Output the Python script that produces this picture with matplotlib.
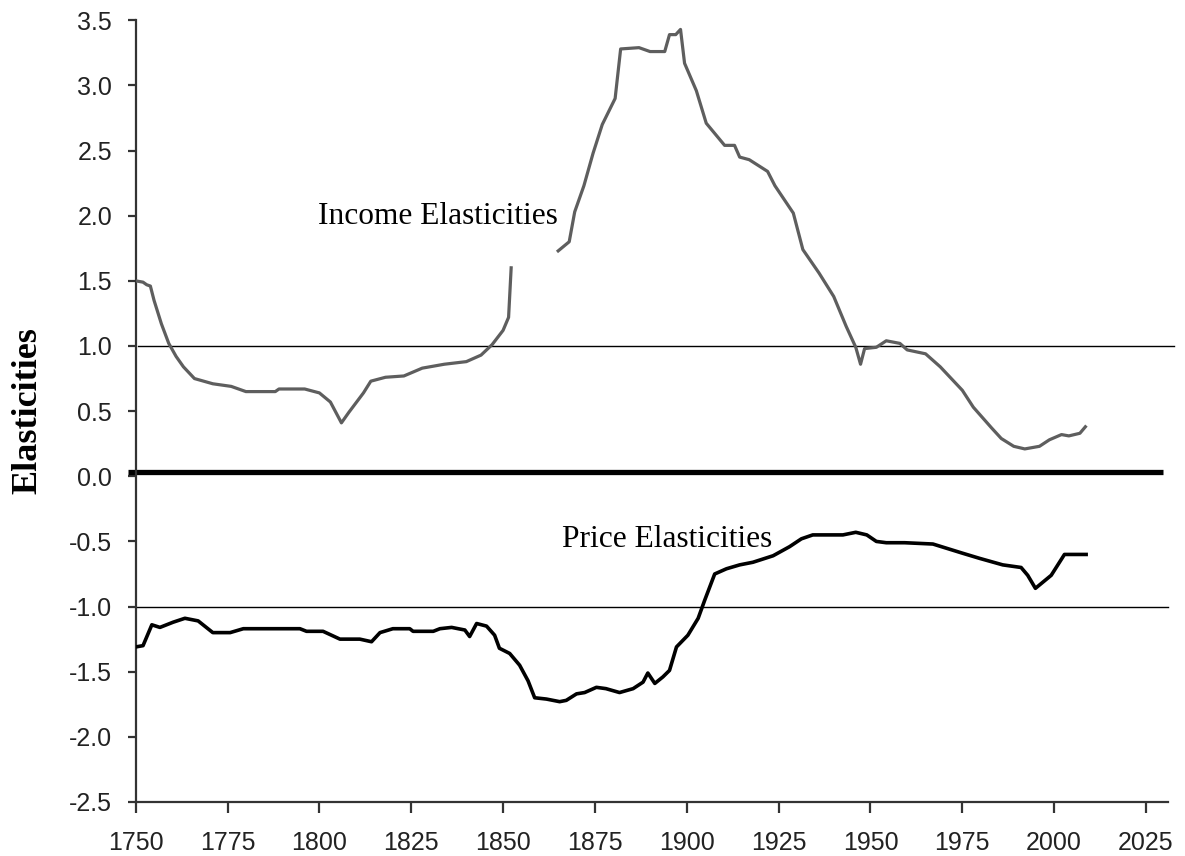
import matplotlib
matplotlib.use("Agg")
import matplotlib.pyplot as plt

plt.rcParams['axes.unicode_minus'] = False

# ---- data ----
income_years_early = [1750, 1752, 1753, 1754, 1755, 1757, 1759, 1761, 1763, 1766, 1771, 1776,
                      1780, 1788, 1789, 1796, 1800, 1803, 1806, 1808, 1812, 1814, 1818, 1823,
                      1828, 1834, 1840, 1844, 1847, 1850, 1851.5, 1852.2]
income_early = [1.50, 1.49, 1.47, 1.46, 1.35, 1.17, 1.02, 0.92, 0.84, 0.75, 0.71, 0.69,
                0.65, 0.65, 0.67, 0.67, 0.64, 0.57, 0.41, 0.49, 0.64, 0.73, 0.76, 0.77,
                0.83, 0.86, 0.88, 0.93, 1.01, 1.12, 1.22, 1.60]

income_years_late = [1865, 1868, 1869.5, 1872, 1874.5, 1877, 1880.5, 1882, 1887, 1890, 1894,
                     1895.3, 1897, 1898.3, 1899.4, 1902.6, 1905.3, 1910.3, 1913, 1914.4, 1917,
                     1922, 1924, 1929, 1931.6, 1936, 1940, 1943.4, 1946, 1947.3, 1948.4,
                     1951.6, 1954.3, 1958, 1960, 1965, 1969, 1975, 1978, 1983, 1985.6, 1989,
                     1992, 1996, 1998.7, 2002, 2004, 2007, 2008.5]
income_late = [1.73, 1.80, 2.03, 2.23, 2.48, 2.70, 2.90, 3.28, 3.29, 3.26, 3.26,
               3.39, 3.39, 3.43, 3.17, 2.96, 2.71, 2.54, 2.54, 2.45, 2.43,
               2.34, 2.23, 2.02, 1.74, 1.56, 1.38, 1.15, 0.99, 0.86, 0.98,
               0.99, 1.04, 1.02, 0.97, 0.94, 0.84, 0.66, 0.53, 0.37, 0.29, 0.23,
               0.21, 0.23, 0.28, 0.32, 0.31, 0.33, 0.38]

price_years = [1750, 1752, 1754.4, 1756.6, 1760.2, 1763.4, 1767, 1771, 1775.7, 1779.3, 1794.7,
               1796.5, 1801, 1805.6, 1811, 1814.2, 1816.5, 1820, 1824.6, 1825.5, 1831, 1832.8,
               1836, 1839.6, 1840.9, 1842.8, 1845.5, 1847.7, 1849, 1851.8, 1854.5, 1856.8,
               1858.6, 1861.8, 1865.4, 1867.2, 1870, 1872.2, 1875.4, 1878, 1881.7, 1885.4,
               1888.1, 1889.4, 1891.3, 1893.5, 1895.3, 1897.2, 1900.3, 1903.1, 1904.9, 1907.6,
               1910.8, 1914.4, 1918, 1923.5, 1928, 1931.2, 1934.3, 1942.5, 1946, 1949, 1951.6,
               1954.3, 1959.3, 1967, 1975, 1979.7, 1986, 1991, 1992.8, 1994.9, 1999.2, 2002.8,
               2008.7]
price = [-1.31, -1.30, -1.14, -1.16, -1.12, -1.09, -1.11, -1.20, -1.20, -1.17, -1.17,
         -1.19, -1.19, -1.25, -1.25, -1.27, -1.20, -1.17, -1.17, -1.19, -1.19, -1.17,
         -1.16, -1.18, -1.23, -1.13, -1.15, -1.22, -1.32, -1.36, -1.45, -1.57,
         -1.70, -1.71, -1.73, -1.72, -1.67, -1.66, -1.62, -1.63, -1.66, -1.63,
         -1.58, -1.51, -1.59, -1.54, -1.49, -1.31, -1.22, -1.09, -0.95, -0.75,
         -0.71, -0.68, -0.66, -0.61, -0.54, -0.48, -0.45, -0.45, -0.43, -0.45, -0.50,
         -0.51, -0.51, -0.52, -0.59, -0.63, -0.68, -0.70, -0.76, -0.86, -0.76, -0.60,
         -0.60]

x_ticks = [1750, 1775, 1800, 1825, 1850, 1875, 1900, 1925, 1950, 1975, 2000, 2025]
y_ticks = [-2.5, -2.0, -1.5, -1.0, -0.5, 0.0, 0.5, 1.0, 1.5, 2.0, 2.5, 3.0, 3.5]

# ---- figure ----
fig = plt.figure(figsize=(11.85, 8.56), dpi=100)
ax = fig.add_axes([0.1145, 0.0631, 0.9857 - 0.1145, 0.9763 - 0.0631])
ax.set_xlim(1750, 2031)
ax.set_ylim(-2.5, 3.5)

# reference lines
ax.plot([1750.7, 2032.5], [1.0, 1.0], color='black', lw=1.0, clip_on=False, zorder=1)
ax.plot([1750.0, 2031.0], [-1.0, -1.0], color='black', lw=1.0, clip_on=False, zorder=1)
ax.plot([1748.0, 2029.7], [0.03, 0.03], color='black', lw=3.8, clip_on=False,
        solid_capstyle='butt', zorder=2)

# series
ax.plot(income_years_early, income_early, color='#5e5e5e', lw=2.3, zorder=3)
ax.plot(income_years_late, income_late, color='#5e5e5e', lw=2.3, zorder=3)
ax.plot(price_years, price, color='black', lw=2.6, zorder=3)

# annotations
ax.text(1799.6, 1.94, 'Income Elasticities', family='Liberation Serif', fontsize=22.6,
        ha='left', va='baseline', color='black')
ax.text(1866.0, -0.543, 'Price Elasticities', family='Liberation Serif', fontsize=22.6,
        ha='left', va='baseline', color='black')

# axes styling
for s in ('top', 'right'):
    ax.spines[s].set_visible(False)
for s in ('left', 'bottom'):
    ax.spines[s].set_linewidth(1.6)
    ax.spines[s].set_color('#333333')

ax.set_xticks(x_ticks)
ax.set_xticklabels([str(v) for v in x_ticks])
ax.set_yticks(y_ticks)
ax.set_yticklabels(['%.1f' % v for v in y_ticks])
ax.tick_params(axis='y', direction='out', length=6, width=1.6, color='#333333',
               pad=11, labelsize=18, labelcolor='#222222')
ax.tick_params(axis='x', direction='out', length=8, width=1.6, color='#333333',
               pad=13, labelsize=18, labelcolor='#222222')
for lbl in ax.get_xticklabels() + ax.get_yticklabels():
    lbl.set_family('Liberation Sans')

fig.text(28 / 1185, 1 - 411 / 856, 'Elasticities', rotation=90, ha='center', va='center',
         family='Liberation Serif', fontweight='bold', fontsize=26)

fig.savefig('out.png', dpi=100)
